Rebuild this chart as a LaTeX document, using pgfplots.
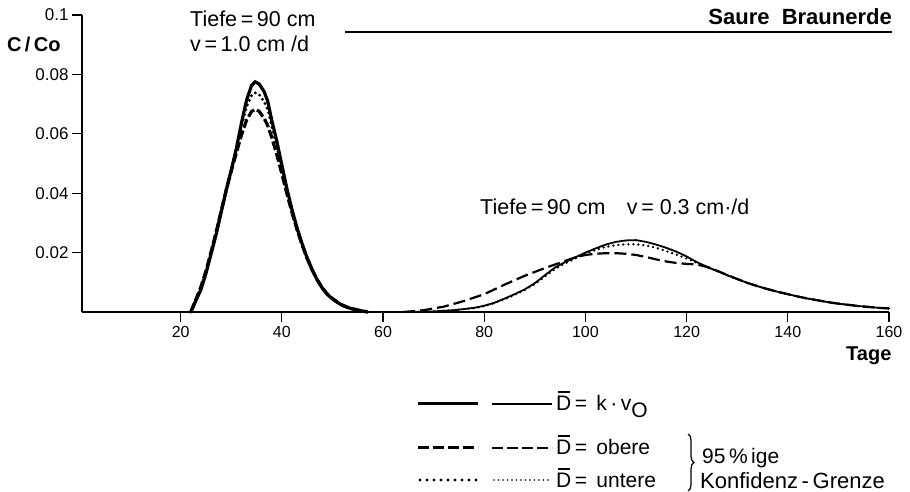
\documentclass[border=0pt]{standalone}
\usepackage{fontspec}
\setmainfont{Liberation Sans}
\usepackage{pgfplots}
\pgfplotsset{compat=1.18}
\usepackage{pgfplotstable}
\usetikzlibrary{decorations.pathreplacing}

% Peak 1: Tiefe 90 cm, v = 1.0 cm/d
\pgfplotstableread{
x y
22 0
23 0.0038
24 0.0075
25 0.013
26 0.0195
27 0.026
28 0.0335
29 0.041
30 0.0478
31 0.055
32 0.0635
33 0.0712
34 0.0762
34.7 0.0775
35.5 0.0768
36.5 0.0742
37.2 0.071
38 0.0646
39 0.0575
40 0.0495
41 0.0415
42 0.0345
43 0.0283
44 0.023
45 0.0182
46 0.0142
47 0.0108
48 0.0080
49 0.0059
50 0.0044
51 0.0032
52 0.0022
53 0.0015
54 0.0010
55 0.0006
56 0.0003
57 0
}\solidA
\pgfplotstableread{
x y
22 0
23 0.0042
24 0.0085
25 0.0138
26 0.0202
27 0.0268
28 0.034
29 0.041
30 0.0475
31 0.0535
32 0.0595
33 0.0645
34 0.0675
34.7 0.0682
35.5 0.0676
36.5 0.0652
37.2 0.0628
38 0.0588
39 0.053
40 0.0465
41 0.0398
42 0.0335
43 0.0277
44 0.0226
45 0.018
46 0.0141
47 0.0108
48 0.0081
49 0.006
50 0.0045
51 0.0033
52 0.0023
53 0.0016
54 0.0011
55 0.0007
56 0.0003
57 0
}\dashA
\pgfplotstableread{
x y
22 0
23 0.004
24 0.008
25 0.0134
26 0.0198
27 0.0264
28 0.0338
29 0.041
30 0.0478
31 0.0548
32 0.0625
33 0.069
34 0.0728
34.7 0.0738
35.5 0.0733
36.5 0.0708
37.2 0.0682
38 0.0625
39 0.0558
40 0.0485
41 0.041
42 0.0342
43 0.0281
44 0.0229
45 0.0182
46 0.0142
47 0.0108
48 0.008
49 0.0059
50 0.0044
51 0.0032
52 0.0022
53 0.0015
54 0.001
55 0.0006
56 0.0003
57 0
}\dotA
% Peak 2: Tiefe 90 cm, v = 0.3 cm/d
\pgfplotstableread{
x y
66 0
70 0.0002
74 0.0006
78 0.0014
80 0.0021
82 0.0031
84 0.0045
86 0.006
88 0.0076
90 0.0097
92 0.0124
94 0.015
96 0.0168
98 0.0184
100 0.02
102 0.0214
104 0.0227
106 0.0236
108 0.0241
110 0.0242
112 0.0236
114 0.0227
116 0.0216
118 0.0203
120 0.0187
122 0.0168
123 0.016
124 0.0152
126 0.0138
128 0.0124
130 0.0111
132 0.0098
134 0.0087
136 0.0077
138 0.0068
140 0.006
142 0.0052
144 0.0045
146 0.0039
148 0.0033
150 0.0028
152 0.0024
154 0.002
156 0.0017
158 0.0014
160 0.0012
}\solidB
\pgfplotstableread{
x y
64 0
68 0.0006
72 0.0018
76 0.0037
80 0.006
84 0.0092
88 0.0122
92 0.0148
96 0.0172
98 0.0184
100 0.0192
102 0.0196
104 0.0198
106 0.0198
108 0.0196
110 0.0192
112 0.0185
114 0.0177
116 0.017
118 0.0165
120 0.0162
122 0.016
124 0.0152
126 0.0139
128 0.0125
130 0.0111
132 0.0098
134 0.0087
136 0.0077
138 0.0068
140 0.006
142 0.0052
144 0.0045
146 0.0039
148 0.0033
150 0.0028
152 0.0024
154 0.002
156 0.0017
158 0.0014
160 0.0012
}\dashB
\pgfplotstableread{
x y
66 0
70 0.0002
74 0.0006
78 0.0013
80 0.002
82 0.003
84 0.0043
86 0.0058
88 0.0074
90 0.0094
92 0.012
94 0.0145
96 0.0164
98 0.018
100 0.0196
102 0.0209
104 0.0219
106 0.0225
108 0.0228
110 0.0228
112 0.0224
114 0.0216
116 0.0205
118 0.0193
120 0.018
122 0.0166
124 0.0152
126 0.0138
128 0.0124
130 0.0111
132 0.0098
134 0.0087
136 0.0077
138 0.0068
140 0.006
142 0.0052
144 0.0045
146 0.0039
148 0.0033
150 0.0028
152 0.0024
154 0.002
156 0.0017
158 0.0014
160 0.0012
}\dotB

\newcommand\Dbar{\ooalign{D\cr\hidewidth\rule[0.86em]{0.55em}{0.07em}\hidewidth\cr}}

\begin{document}
\begin{tikzpicture}[x=1pt,y=1pt]
\useasboundingbox (0,0) rectangle (910,492);
\begin{axis}[
  at={(82pt,180pt)}, anchor=south west,
  width=807pt, height=297pt, scale only axis,
  xmin=0.5, xmax=160, ymin=0, ymax=0.1,
  axis lines*=left,
  axis line style={line width=1.6pt},
  xtick={20,40,...,160},
  ytick={0.02,0.04,0.06,0.08,0.1},
  yticklabels={0.02,0.04,0.06,0.08,0.1},
  scaled y ticks=false,
  tick align=outside,
  major tick length=10pt,
  tick style={line width=1.2pt, black},
  /pgf/number format/assume math mode=true,
  xticklabel style={font=\fontsize{16}{19}\selectfont, yshift=-1pt},
  yticklabel style={font=\fontsize{17}{20}\selectfont},
  clip=false,
]
\addplot[black, line width=3.2pt] table {\solidA};
\addplot[black, line width=3.2pt, dash pattern=on 9pt off 3pt] table {\dashA};
\addplot[black, line width=3.2pt, dash pattern=on 0pt off 5pt, line cap=round] table {\dotA};
\addplot[black, line width=1.8pt] table {\solidB};
\addplot[black, line width=2.2pt, dash pattern=on 12pt off 5pt] table {\dashB};
\addplot[black, line width=2.6pt, dash pattern=on 0pt off 5pt, line cap=round] table {\dotB};
\end{axis}

% titles and annotations
\node[anchor=base west, inner sep=0, font=\bfseries\fontsize{20}{24}\selectfont] at (7,440) {C\,/\,Co};
\node[anchor=base west, inner sep=0, font=\bfseries\fontsize{20}{24}\selectfont] at (846,131) {Tage};
\node[anchor=base west, inner sep=0, font=\fontsize{21.5}{25}\selectfont] at (190,465) {Tiefe\,=\,90 cm};
\node[anchor=base west, inner sep=0, font=\fontsize{21.5}{25}\selectfont] at (190,440) {v\,=\,1.0 cm /d};
\node[anchor=base west, inner sep=0, font=\fontsize{21.5}{25}\selectfont] at (480,277) {Tiefe\,=\,90 cm\quad v\,=\ 0.3 cm·/d};
\node[anchor=base east, inner sep=0, font=\bfseries\fontsize{22}{26}\selectfont] at (892,467) {Saure\ \ Braunerde};
\draw[line width=1.4pt] (345,460) -- (892,460);

% legend
\draw[line width=3pt] (418,88) -- (478,88);
\draw[line width=1.3pt] (492,88) -- (552,88);
\node[anchor=base west, inner sep=0, font=\fontsize{21}{25}\selectfont] at (556,81) {\Dbar\,= \,k\,·\,v\raisebox{-0.3em}{O}};

\draw[line width=3pt, dash pattern=on 11pt off 4pt] (418,44) -- (478,44);
\draw[line width=1.3pt, dash pattern=on 11pt off 4pt] (492,44) -- (552,44);
\node[anchor=base west, inner sep=0, font=\fontsize{21}{25}\selectfont] at (556,37) {\Dbar\,= \,obere};

\draw[line width=3.4pt, dash pattern=on 0pt off 7pt, line cap=round] (420,12) -- (478,12);
\draw[line width=1.8pt, dash pattern=on 0pt off 4.5pt, line cap=round] (494,12) -- (552,12);
\node[anchor=base west, inner sep=0, font=\fontsize{21}{25}\selectfont] at (556,4) {\Dbar\,= \,untere};

\draw[line width=1.2pt, decorate, decoration={brace, amplitude=6pt}] (688,58) -- (688,1);
\node[anchor=base west, inner sep=0, font=\fontsize{21}{25}\selectfont] at (702,28) {95\,\%\,ige};
\node[anchor=base west, inner sep=0, font=\fontsize{22}{26}\selectfont] at (700,3) {Konfidenz\,-\,Grenze};
\end{tikzpicture}
\end{document}
